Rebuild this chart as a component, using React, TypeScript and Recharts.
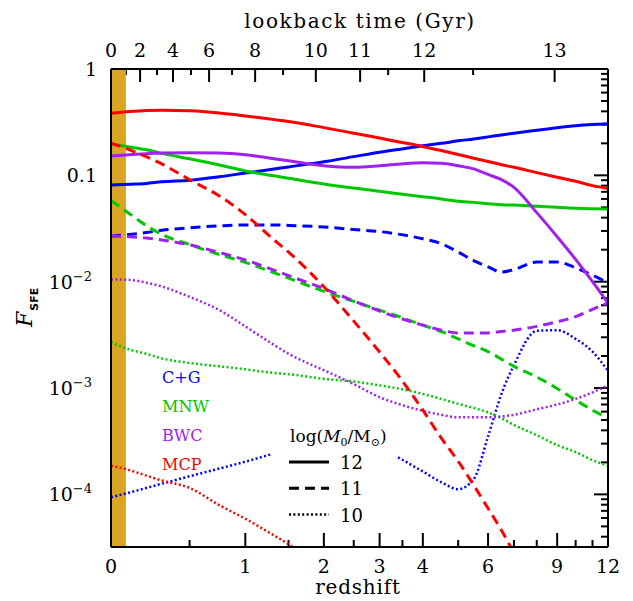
import React from 'react';
import { LineChart, Line, XAxis, YAxis, ReferenceArea } from 'recharts';

// redshift grid shared by all model curves
const redshift = [0, 0.1, 0.2, 0.3, 0.5, 0.75, 1, 1.3, 1.5, 2, 2.5, 3, 3.4, 4, 4.5, 5, 5.5, 6, 6.5, 7, 8, 9, 10, 11, 12];

// C+G
const cg12 = [0.081, 0.0825, 0.084, 0.087, 0.09, 0.097, 0.105, 0.114, 0.12, 0.134, 0.15, 0.165, 0.175, 0.19, 0.2, 0.211, 0.22, 0.23, 0.24, 0.249, 0.265, 0.28, 0.292, 0.3, 0.305];
const cg11 = [0.0267, 0.0278, 0.029, 0.0304, 0.0321, 0.0335, 0.0342, 0.0342, 0.0338, 0.0327, 0.0309, 0.0296, 0.028, 0.0253, 0.0228, 0.019, 0.0158, 0.0138, 0.0123, 0.013, 0.0153, 0.0153, 0.0135, 0.0115, 0.0098];
const cg10 = [9.4e-5, 1.04e-4, 1.15e-4, 1.26e-4, 1.48e-4, 1.75e-4, 2.03e-4, 2.4e-4, null, null, null, null, 2.23e-4, 1.64e-4, 1.3e-4, 1.12e-4, 1.39e-4, 3.5e-4, 8.8e-4, 1.64e-3, 3.45e-3, 3.5e-3, 2.9e-3, 2.2e-3, 1.45e-3];

// MNW
const mnw12 = [0.197, 0.185, 0.174, 0.161, 0.143, 0.125, 0.11, 0.0995, 0.094, 0.083, 0.076, 0.071, 0.067, 0.063, 0.06, 0.057, 0.0557, 0.054, 0.053, 0.0525, 0.0513, 0.05, 0.049, 0.0485, 0.0483];
const mnw11 = [0.058, 0.0436, 0.0337, 0.0278, 0.0223, 0.018, 0.0152, 0.0123, 0.0108, 0.0081, 0.00653, 0.0054, 0.00473, 0.0039, 0.0034, 0.0029, 0.0025, 0.0022, 0.00187, 0.0016, 0.00127, 0.00099, 0.00077, 0.00062, 0.00052];
const mnw10 = [0.0027, 0.0023, 0.0021, 0.0019, 0.00172, 0.0016, 0.0015, 0.00139, 0.00135, 0.00122, 0.00115, 0.00106, 0.00099, 0.00088, 0.00079, 0.00071, 0.00065, 0.00059, 0.00052, 0.00045, 0.00036, 0.00029, 0.00025, 0.00021, 0.000186];

// BWC
const bwc12 = [0.152, 0.156, 0.16, 0.162, 0.163, 0.162, 0.156, 0.144, 0.137, 0.123, 0.119, 0.123, 0.127, 0.131, 0.13, 0.123, 0.115, 0.102, 0.091, 0.077, 0.0446, 0.0265, 0.0162, 0.01, 0.0063];
const bwc11 = [0.0267, 0.0265, 0.0257, 0.0247, 0.0222, 0.0188, 0.016, 0.013, 0.0114, 0.0086, 0.0066, 0.0053, 0.0046, 0.0039, 0.0035, 0.0033, 0.0033, 0.0033, 0.0034, 0.0035, 0.0038, 0.0042, 0.0047, 0.0055, 0.0063];
const bwc10 = [0.0105, 0.0104, 0.0098, 0.009, 0.0072, 0.0054, 0.0038, 0.0026, 0.0021, 0.00147, 0.00109, 0.00082, 0.00071, 0.00061, 0.00056, 0.00053, 0.00053, 0.00053, 0.00054, 0.00056, 0.00063, 0.0007, 0.00079, 0.00091, 0.00106];

// MCP
const mcp12 = [0.384, 0.399, 0.408, 0.41, 0.405, 0.386, 0.362, 0.336, 0.321, 0.281, 0.249, 0.224, 0.207, 0.187, 0.171, 0.157, 0.145, 0.135, 0.126, 0.119, 0.106, 0.096, 0.088, 0.08, 0.075];
const mcp11 = [0.201, 0.174, 0.15, 0.128, 0.091, 0.064, 0.0427, 0.0255, 0.019, 0.00895, 0.00426, 0.00218, 0.00132, 0.00062, 0.000338, 0.000205, 0.000122, 0.000074, 0.000046, 0.000028, null, null, null, null, null];
const mcp10 = [1.86e-4, 1.69e-4, 1.5e-4, 1.35e-4, 1.15e-4, 7.9e-5, 5.9e-5, 4.2e-5, 3.4e-5, 2.0e-5, null, null, null, null, null, null, null, null, null, null, null, null, null, null, null];

// axis ticks
const zMajor = [0, 1, 2, 3, 4, 6, 9, 12];
const zMinor = [0.5, 1.5, 2.5, 3.5, 5, 7, 8, 10, 11];
const lookbackMajor = [0, 2, 4, 6, 8, 10, 11, 12, 13];
const lookbackMajorZ = [0, 0.162, 0.377, 0.659, 1.104, 1.878, 2.617, 4.035, 8.87];
const lookbackMinorZ = [0.08, 0.268, 0.511, 0.868, 1.43, 3.18, 5.48];
const recentZ = 0.08; // last Gyr

const models = [
  { name: 'C+G', color: '#0000FF', series: { 12: 'cg12', 11: 'cg11', 10: 'cg10' } },
  { name: 'MNW', color: '#00C800', series: { 12: 'mnw12', 11: 'mnw11', 10: 'mnw10' } },
  { name: 'BWC', color: '#A020F0', series: { 12: 'bwc12', 11: 'bwc11', 10: 'bwc10' } },
  { name: 'MCP', color: '#FF0000', series: { 12: 'mcp12', 11: 'mcp11', 10: 'mcp10' } },
];

const lx = (z: number) => Math.log10(1 + z);
const X_MAX = lx(12);
const Y_MIN = 3.2e-5;

const data = redshift.map((z, i) => ({
  lx: lx(z),
  cg12: cg12[i], cg11: cg11[i], cg10: cg10[i],
  mnw12: mnw12[i], mnw11: mnw11[i], mnw10: mnw10[i],
  bwc12: bwc12[i], bwc11: bwc11[i], bwc10: bwc10[i],
  mcp12: mcp12[i], mcp11: mcp11[i], mcp10: mcp10[i],
}));

const yTicks: number[] = [];
for (let e = -5; e <= 0; e++) {
  for (let m = 1; m <= 9; m++) {
    const v = m * Math.pow(10, e);
    if (v >= Y_MIN && v <= 1.0000001) yTicks.push(v);
  }
}

// chart box; each axis takes 1px, so the plot starts 1px inside the margin
const W = 625;
const H = 593;
const M = { top: 60, left: 102, right: 24, bottom: 53 };
const plot = {
  left: M.left + 1,
  top: M.top + 1,
  width: W - M.left - M.right - 2,
  height: H - M.top - M.bottom - 2,
};
// same mapping as the axes, for placing the inward tick marks
const px = (z: number) => plot.left + (lx(z) / X_MAX) * plot.width;
const py = (v: number) => plot.top + (-Math.log10(v) / Math.log10(1 / Y_MIN)) * plot.height;

const serif = { fontFamily: '"DejaVu Serif", serif', fill: '#000' };
const tickFont = { ...serif, fontSize: 19 };

const styleFor = (mass: number) =>
  mass === 12
    ? { strokeWidth: 3, dash: undefined }
    : mass === 11
    ? { strokeWidth: 3, dash: '10 6' }
    : { strokeWidth: 2.5, dash: '2 2.4' };

const isMajorY = (v: number) => Math.abs(Math.log10(v) - Math.round(Math.log10(v))) < 1e-6;

const LeftLabel = (props: any) => {
  const { x, y, payload } = props;
  const v = payload.value;
  if (!isMajorY(v)) return <g />;
  const e = Math.round(Math.log10(v));
  if (e === 0 || e === -1) {
    return (
      <text x={x - 14} y={y + 7} textAnchor="end" style={tickFont}>
        {e === 0 ? '1' : '0.1'}
      </text>
    );
  }
  return (
    <text x={x - 19} y={y + 7} textAnchor="end" style={tickFont}>
      10
      <tspan dy={-8} fontSize={13}>{`\u2212${-e}`}</tspan>
    </text>
  );
};

const BottomLabel = (props: any) => {
  const { x, y, payload } = props;
  const z = Math.pow(10, payload.value) - 1;
  const i = zMajor.findIndex((m) => Math.abs(m - z) < 1e-6);
  if (i < 0) return <g />;
  return (
    <text x={x} y={y + 26} textAnchor="middle" style={tickFont}>
      {zMajor[i]}
    </text>
  );
};

const TopLabel = (props: any) => {
  const { x, y, payload } = props;
  const i = lookbackMajorZ.findIndex((z) => Math.abs(lx(z) - payload.value) < 1e-6);
  if (i < 0) return <g />;
  return (
    <text x={x} y={y - 12} textAnchor="middle" style={tickFont}>
      {lookbackMajor[i]}
    </text>
  );
};

// inward tick marks on all four sides
const tickMarks: { x1: number; y1: number; x2: number; y2: number }[] = [];
const bottomY = plot.top + plot.height;
const rightX = plot.left + plot.width;
[...zMajor.map((z) => [z, 14]), ...zMinor.map((z) => [z, 7])].forEach(([z, len]) => {
  tickMarks.push({ x1: px(z), y1: bottomY, x2: px(z), y2: bottomY - len });
});
[...lookbackMajorZ.map((z) => [z, 13]), ...lookbackMinorZ.map((z) => [z, 6])].forEach(([z, len]) => {
  tickMarks.push({ x1: px(z), y1: plot.top, x2: px(z), y2: plot.top + len });
});
yTicks.forEach((v) => {
  const len = isMajorY(v) ? 14 : 7;
  tickMarks.push({ x1: plot.left, y1: py(v), x2: plot.left + len, y2: py(v) });
  tickMarks.push({ x1: rightX, y1: py(v), x2: rightX - len, y2: py(v) });
});

const axisLine = { stroke: '#000', strokeWidth: 2 };

export default function App() {
  return (
    <LineChart width={W} height={H} data={data} margin={M}>
      <ReferenceArea x1={0} x2={lx(recentZ)} fill="#DAA520" fillOpacity={1} stroke="none" />
      {models.flatMap((m) =>
        [12, 11, 10].map((mass) => {
          const s = styleFor(mass);
          return (
            <Line
              key={(m.series as any)[mass]}
              type="monotone"
              dataKey={(m.series as any)[mass]}
              stroke={m.color}
              strokeWidth={s.strokeWidth}
              strokeDasharray={s.dash}
              dot={false}
              activeDot={false}
              isAnimationActive={false}
            />
          );
        })
      )}
      <XAxis
        type="number"
        dataKey="lx"
        domain={[0, X_MAX]}
        ticks={zMajor.map(lx)}
        interval={0}
        height={1}
        tickSize={0}
        tickMargin={0}
        tickLine={false}
        tick={<BottomLabel />}
        axisLine={axisLine}
        allowDataOverflow
      />
      <XAxis
        xAxisId="top"
        orientation="top"
        type="number"
        dataKey="lx"
        domain={[0, X_MAX]}
        ticks={lookbackMajorZ.map(lx)}
        interval={0}
        height={1}
        tickSize={0}
        tickMargin={0}
        tickLine={false}
        tick={<TopLabel />}
        axisLine={axisLine}
        allowDataOverflow
      />
      <YAxis
        type="number"
        scale="log"
        domain={[Y_MIN, 1]}
        ticks={yTicks.filter(isMajorY)}
        interval={0}
        width={1}
        tickSize={0}
        tickMargin={0}
        tickLine={false}
        tick={<LeftLabel />}
        axisLine={axisLine}
        allowDataOverflow
      />
      <YAxis
        yAxisId="right"
        orientation="right"
        type="number"
        scale="log"
        domain={[Y_MIN, 1]}
        width={1}
        tick={false}
        tickLine={false}
        axisLine={axisLine}
        allowDataOverflow
      />

      <g>
        {tickMarks.map((t, i) => (
          <line key={i} x1={t.x1} y1={t.y1} x2={t.x2} y2={t.y2} stroke="#000" strokeWidth={2} />
        ))}
      </g>

      {/* axis titles */}
      <text x={352} y={20} textAnchor="middle" style={{ ...serif, fontSize: 20, letterSpacing: 1.6 }}>
        lookback time (Gyr)
      </text>
      <text x={350} y={586} textAnchor="middle" style={{ ...serif, fontSize: 20, letterSpacing: 0.8 }}>
        redshift
      </text>
      <text transform="translate(24,319) rotate(-90)" style={{ ...serif, fontSize: 22, fontStyle: 'italic' }}>
        F
        <tspan dx={1} dy={6} style={{ fontFamily: '"DejaVu Sans", sans-serif', fontSize: 11, fontWeight: 'bold', fontStyle: 'normal' }}>
          SFE
        </tspan>
      </text>

      {/* model key */}
      {models.map((m, i) => (
        <text key={m.name} x={154} y={375 + i * 29} style={{ ...serif, fontSize: 16, fill: m.color }}>
          {m.name}
        </text>
      ))}

      {/* halo mass key */}
      <text x={282} y={434} style={{ ...serif, fontSize: 17 }}>
        log(
        <tspan fontStyle="italic">M</tspan>
        <tspan fontSize={11} dy={4}>0</tspan>
        <tspan dy={-4}>/M</tspan>
        <tspan fontSize={11} dy={4}>{'\u2299'}</tspan>
        <tspan dy={-4}>)</tspan>
      </text>
      {[12, 11, 10].map((mass, i) => {
        const s = styleFor(mass);
        const y = 454 + i * 26.3;
        return (
          <g key={mass}>
            <line x1={281} x2={321} y1={y} y2={y} stroke="#000" strokeWidth={s.strokeWidth} strokeDasharray={s.dash} />
            <text x={332} y={y + 7} style={{ ...serif, fontSize: 18 }}>
              {mass}
            </text>
          </g>
        );
      })}
    </LineChart>
  );
}
